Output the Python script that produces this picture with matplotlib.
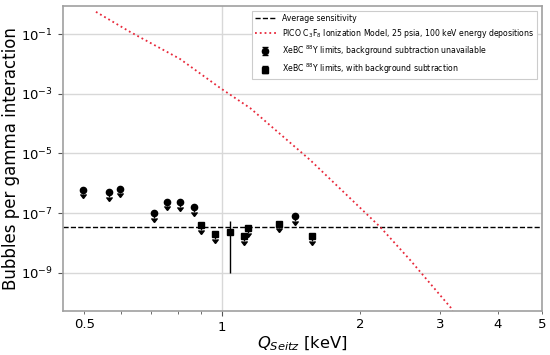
import numpy as np
import matplotlib
matplotlib.use("Agg")
import matplotlib.pyplot as plt
from matplotlib.ticker import NullLocator

# Average sensitivity level
avg_sensitivity = 3.4e-8

# PICO C3F8 ionization model curve
pico_q = [0.530, 0.629, 0.809, 0.990, 1.152, 1.558, 2.217, 2.578, 3.155, 3.20]
pico_rate = [0.556, 0.119, 1.47e-2, 1.57e-3, 3.3e-4, 6.0e-6, 3.4e-8, 2.65e-9, 7.0e-11, 4.5e-11]

# XeBC 88Y limits without background subtraction
nobg_q = [0.497, 0.567, 0.599, 0.710, 0.758, 0.808, 0.870, 1.44]
nobg_lim = [6.2e-7, 4.95e-7, 6.7e-7, 1.0e-7, 2.4e-7, 2.35e-7, 1.6e-7, 7.8e-8]

# XeBC 88Y limits with background subtraction
bg_q = [0.901, 0.967, 1.119, 1.14, 1.328, 1.57]
bg_lim = [3.9e-8, 2.0e-8, 1.7e-8, 3.2e-8, 4.5e-8, 1.7e-8]

# the one point with a measured error bar
meas_q = [1.04]
meas_val = [2.3e-8]
meas_err_lo = [2.2e-8]
meas_err_hi = [3.1e-8]

fig = plt.figure(figsize=(5.5, 3.55), dpi=100)
ax = fig.add_axes([0.1145, 0.124, 0.871, 0.859])

ax.axhline(avg_sensitivity, color="black", linestyle="--", linewidth=1.0,
           label="Average sensitivity")
ax.plot(pico_q, pico_rate, color="#e8283a", linestyle=":", linewidth=1.3,
        label="PICO C$_3$F$_8$ Ionization Model, 25 psia, 100 keV energy depositions")

ax.errorbar(nobg_q, nobg_lim, yerr=0.3 * np.array(nobg_lim), uplims=True,
            fmt="o", color="black", markersize=4.5, capsize=2, elinewidth=1.0,
            label="XeBC $^{88}$Y limits, background subtraction unavailable")
ax.errorbar(bg_q, bg_lim, yerr=0.3 * np.array(bg_lim), uplims=True,
            fmt="s", color="black", markersize=5, capsize=2, elinewidth=1.0,
            label="XeBC $^{88}$Y limits, with background subtraction")
ax.errorbar(meas_q, meas_val, yerr=[meas_err_lo, meas_err_hi],
            fmt="s", color="black", markersize=5, elinewidth=1.0)

ax.set_xscale("log")
ax.set_yscale("log")
ax.set_xlim(0.449, 5.0)
ax.set_ylim(5.3e-11, 0.87)

ax.set_xticks([1], ["1"])
ax.set_xticks([0.5, 0.6, 0.7, 0.8, 0.9, 2, 3, 4, 5],
              ["0.5", "", "", "", "", "2", "3", "4", "5"], minor=True)
ax.set_yticks([1e-9, 1e-7, 1e-5, 1e-3, 1e-1])
ax.yaxis.set_minor_locator(NullLocator())
ax.tick_params(axis="both", which="both", labelsize=9.5, colors="#555555",
               labelcolor="black")
ax.tick_params(axis="x", which="minor", length=2)

ax.grid(True, which="major", color="#d8d8d8", linewidth=1.0)
for sp in ax.spines.values():
    sp.set_color("#a0a0a0")
    sp.set_linewidth(1.2)

ax.set_xlabel("$Q_{Seitz}$ [keV]", fontsize=11.8, labelpad=1)
ax.set_ylabel("Bubbles per gamma interaction", fontsize=12, labelpad=1)

leg = ax.legend(loc="upper right", fontsize=5.6, handlelength=2.7,
                fancybox=False, edgecolor="#cccccc", framealpha=1,
                borderaxespad=0.6)
leg.get_frame().set_linewidth(0.8)

fig.savefig("out.png", dpi=100)
